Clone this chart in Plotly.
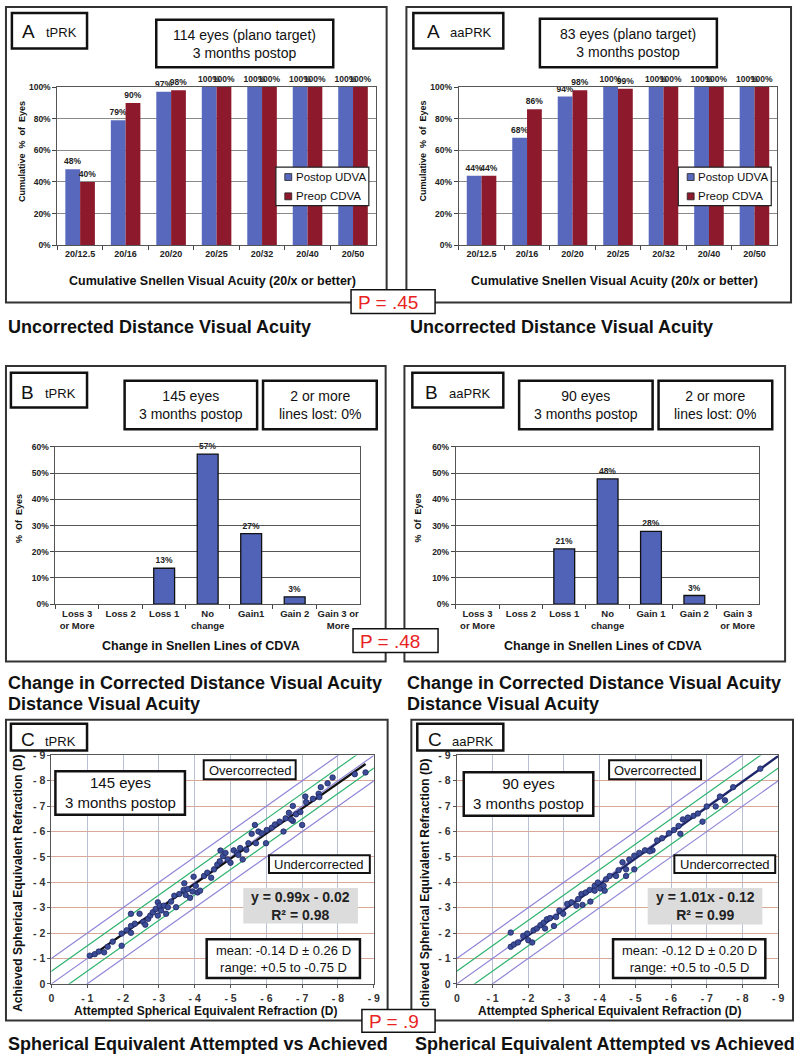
import plotly.graph_objects as go

W, H = 800, 1061
FONT = "Liberation Sans, Arial, Helvetica, sans-serif"

# ---------------- data ----------------
acuity_cats = ["20/12.5", "20/16", "20/20", "20/25", "20/32", "20/40", "20/50"]
series_names = ["Postop UDVA", "Preop CDVA"]
tprk_udva = [48, 79, 97, 100, 100, 100, 100]
tprk_cdva = [40, 90, 98, 100, 100, 100, 100]
aaprk_udva = [44, 68, 94, 100, 100, 100, 100]
aaprk_cdva = [44, 86, 98, 99, 100, 100, 100]

lines_cats_tprk = ["Loss 3<br>or More", "Loss 2", "Loss 1", "No<br>change", "Gain1", "Gain 2", "Gain 3 or<br>More"]
lines_cats_aaprk = ["Loss 3<br>or More", "Loss 2", "Loss 1", "No<br>change", "Gain 1", "Gain 2", "Gain 3<br>or More"]
tprk_lines = [0, 0, 13.7, 57.3, 26.9, 2.8, 0]
tprk_lines_lbl = ["", "", "13%", "57%", "27%", "3%", ""]
aaprk_lines = [0, 0, 21.1, 47.8, 27.8, 3.3, 0]
aaprk_lines_lbl = ["", "", "21%", "48%", "28%", "3%", ""]

# attempted / achieved spherical equivalent (D)
tprk_att = [-1.07, -1.21, -1.32, -1.47, -1.57, -1.71, -1.96, -1.96, -2.10, -2.22, -2.22, -2.22, -2.33, -2.46,
            -2.56, -2.62, -2.70, -2.76, -2.83, -2.91, -2.97, -3.02, -2.97, -3.06, -3.14, -3.20, -3.25, -3.34,
            -3.43, -3.48, -3.57, -3.69, -3.71, -3.75, -3.80, -3.87, -3.94, -3.97, -4.03, -4.08, -4.15, -4.26,
            -4.35, -4.46, -4.54, -4.63, -4.70, -4.72, -4.79, -4.86, -4.92, -5.00, -5.09, -5.18, -5.27, -5.34,
            -5.44, -5.50, -5.59, -5.68, -5.71, -5.78, -5.87, -5.99, -6.01, -6.15, -6.24, -6.37, -6.48, -6.54,
            -6.63, -6.74, -6.74, -6.83, -6.95, -7.00, -7.09, -7.11, -7.30, -7.46, -7.52, -7.71, -7.85, -8.47,
            -8.77, -7.48, -6.69, -5.22]
tprk_ach = [-1.11, -1.17, -1.27, -1.24, -1.46, -1.66, -1.50, -1.98, -2.11, -2.28, -2.01, -2.76, -2.37, -2.76,
            -2.44, -2.33, -2.56, -2.69, -2.82, -2.95, -3.21, -3.08, -2.69, -2.89, -3.08, -2.76, -3.02, -3.24,
            -3.47, -3.02, -3.54, -3.70, -3.96, -3.50, -3.73, -3.39, -3.64, -4.22, -3.86, -3.60, -3.67, -4.25,
            -4.38, -4.18, -4.51, -4.70, -4.83, -5.25, -5.03, -5.16, -4.90, -4.77, -5.26, -5.16, -5.35, -4.90,
            -5.28, -5.54, -5.91, -6.26, -5.54, -6.00, -5.93, -5.54, -6.06, -6.15, -6.28, -6.39, -6.00, -6.52,
            -6.74, -6.42, -7.01, -6.68, -6.77, -6.26, -7.38, -7.16, -7.29, -7.49, -7.75, -7.90, -8.13, -8.26,
            -8.33, -7.36, -6.48, -5.08]
aaprk_att = [-1.51, -1.51, -1.60, -1.71, -1.86, -1.97, -2.00, -2.11, -2.15, -2.24, -2.34, -2.43, -2.47, -2.52,
             -2.61, -2.72, -2.78, -2.87, -2.98, -3.09, -3.21, -3.35, -3.40, -3.49, -3.52, -3.61, -3.72, -3.74,
             -3.86, -3.95, -4.02, -4.11, -4.14, -4.18, -4.28, -4.46, -4.53, -4.64, -4.74, -4.74, -4.83, -4.97,
             -4.97, -5.11, -5.27, -5.48, -5.61, -5.75, -5.94, -6.21, -6.26, -6.33, -6.47, -6.63, -6.75, -6.88,
             -7.00, -7.25, -7.37, -7.51, -7.74, -8.50, -3.86, -5.40, -6.08]
aaprk_ach = [-2.02, -1.46, -1.55, -1.63, -1.89, -1.98, -1.72, -1.63, -2.11, -2.18, -2.31, -2.41, -2.18, -2.54,
             -2.59, -2.28, -2.63, -2.89, -2.76, -3.15, -3.21, -3.08, -3.34, -3.54, -3.11, -3.60, -3.70, -3.24,
             -3.86, -3.99, -3.76, -3.86, -3.67, -4.12, -4.25, -4.25, -4.48, -4.79, -4.51, -4.25, -4.90, -4.51,
             -5.05, -5.16, -5.26, -5.26, -5.65, -5.74, -5.93, -6.22, -5.91, -6.48, -6.55, -6.62, -6.71, -6.39,
             -6.99, -6.99, -7.38, -7.23, -7.75, -8.48, -3.67, -5.22, -6.06]

# fit lines (|achieved| = slope*|attempted| + intercept)
tprk_fit = (0.99, -0.02)
aaprk_fit = (1.01, -0.12)
ref_offsets = [1.0, -1.0, 0.5, -0.5, 0.0]
ref_colors = ["#8E86D8", "#8E86D8", "#2DB36E", "#2DB36E", "#8E86D8"]
se_ticks = list(range(0, -10, -1))
se_ticktext = ["0"] + ["- %d" % i for i in range(1, 10)]

BLUE = "#5868BC"
RED = "#8C1A2C"
BAR_B = "#5163B6"

# ---------------- helpers ----------------
shapes, annotations = [], []


def fx(x):
    return x / W


def fy(y):
    return 1 - y / H


def rect(x0, y0, x1, y1, width=2.0, color="#222", fill="rgba(0,0,0,0)"):
    shapes.append(dict(type="rect", xref="paper", yref="paper", x0=fx(x0), x1=fx(x1), y0=fy(y1), y1=fy(y0),
                       line=dict(color=color, width=width), fillcolor=fill, layer="above"))


def ann(x, y, text, size, bold=False, color="#111", xanchor="center", angle=0):
    annotations.append(dict(x=fx(x), y=fy(y), xref="paper", yref="paper", text=text, showarrow=False,
                            xanchor=xanchor, yanchor="middle", textangle=angle, align="center",
                            font=dict(family=FONT, size=size, color=color,
                                      weight="bold" if bold else "normal")))


def tf(size, bold=True, color="#222"):
    return dict(family=FONT, size=size, color=color, weight="bold" if bold else "normal")


fig = go.Figure()

# ---------------- Panel A bars ----------------
for i, (u, c) in enumerate([(tprk_udva, tprk_cdva), (aaprk_udva, aaprk_cdva)]):
    ax = "" if i == 0 else "2"
    for vals, col, name in [(u, BLUE, series_names[0]), (c, RED, series_names[1])]:
        fig.add_trace(go.Bar(x=acuity_cats, y=vals, name=name, marker=dict(color=col, line=dict(width=0)),
                             text=["%d%%" % v for v in vals], textposition="outside", cliponaxis=False,
                             constraintext="none", textfont=tf(8.5),
                             xaxis="x" + ax, yaxis="y" + ax, showlegend=False))

# ---------------- Panel B bars ----------------
for ax, cats, vals, lbl in [("3", lines_cats_tprk, tprk_lines, tprk_lines_lbl),
                            ("4", lines_cats_aaprk, aaprk_lines, aaprk_lines_lbl)]:
    fig.add_trace(go.Bar(x=cats, y=vals, text=lbl, textposition="outside", cliponaxis=False,
                         constraintext="none", textfont=tf(8.5), width=0.48,
                         marker=dict(color=BAR_B, line=dict(color="#111", width=[1.3 if v > 0 else 0 for v in vals])),
                         xaxis="x" + ax, yaxis="y" + ax, showlegend=False))

# ---------------- Panel C scatter ----------------
for ax, att, ach, fit, lc in [("5", tprk_att, tprk_ach, tprk_fit, "#111111"),
                              ("6", aaprk_att, aaprk_ach, aaprk_fit, "#1B2563")]:
    for off, col in zip(ref_offsets, ref_colors):
        xs = [1, -10]
        fig.add_trace(go.Scatter(x=xs, y=[x - off for x in xs], mode="lines", line=dict(color=col, width=1.2),
                                 xaxis="x" + ax, yaxis="y" + ax, showlegend=False, hoverinfo="skip"))
    x0, x1 = max(att), min(att)
    if ax == "6":
        x1 = -9.0
    s, b = fit
    fig.add_trace(go.Scatter(x=[x0, x1], y=[s * x0 - b, s * x1 - b], mode="lines",
                             line=dict(color=lc, width=2.2), xaxis="x" + ax, yaxis="y" + ax,
                             showlegend=False))
    fig.add_trace(go.Scatter(x=att, y=ach, mode="markers",
                             marker=dict(size=5.5, color="#3C4C96", line=dict(color="#1C2766", width=0.8)),
                             xaxis="x" + ax, yaxis="y" + ax, showlegend=False))

# ---------------- axes ----------------
layout = dict(width=W, height=H, margin=dict(l=0, r=0, t=0, b=0, pad=0), paper_bgcolor="white",
              plot_bgcolor="white", barmode="group", bargap=0.35, bargroupgap=0, showlegend=False,
              font=dict(family=FONT))


def cat_x(dom, size):
    return dict(domain=[fx(dom[0]), fx(dom[1])], type="category", tickson="boundaries", ticks="outside",
                ticklen=4, tickcolor="#444", showline=True, linecolor="#555", linewidth=1, mirror=True,
                showgrid=False, tickfont=tf(size), tickangle=0, fixedrange=True)


def pct_y(dom, top, step, grid):
    vals = list(range(0, top + 1, step))
    return dict(domain=[fy(dom[1]), fy(dom[0])], range=[0, top], tickvals=vals,
                ticktext=["%d%%" % v for v in vals], ticks="outside", ticklen=4, tickcolor="#444",
                showgrid=True, gridcolor=grid, gridwidth=1, showline=True, linecolor="#555", linewidth=1,
                mirror=True, zeroline=False, tickfont=tf(8.5), fixedrange=True)


layout["xaxis"] = dict(cat_x((55, 377), 9), anchor="y")
layout["yaxis"] = dict(pct_y((82, 242), 100, 20, "#8A8A8A"), anchor="x")
layout["xaxis2"] = dict(cat_x((461, 783), 9), anchor="y2")
layout["yaxis2"] = dict(pct_y((82, 242), 100, 20, "#8A8A8A"), anchor="x2")
layout["xaxis3"] = dict(cat_x((53, 361), 9.5), anchor="y3")
layout["yaxis3"] = dict(pct_y((446, 605), 60, 10, "#555555"), anchor="x3")
layout["xaxis4"] = dict(cat_x((458, 765), 9.5), anchor="y4")
layout["yaxis4"] = dict(pct_y((446, 605), 60, 10, "#555555"), anchor="x4")


def se_x(dom):
    return dict(domain=[fx(dom[0]), fx(dom[1])], range=[0, -9], tickvals=se_ticks, ticktext=se_ticktext,
                ticks="outside", ticklen=3, tickcolor="#555", showgrid=True, gridcolor="#B7C0D4", gridwidth=1,
                showline=True, linecolor="#555", linewidth=1.2, mirror=True, zeroline=False,
                ticklabelstandoff=1, tickfont=tf(10.5, True, "#333"), fixedrange=True)


def se_y(dom):
    return dict(domain=[fy(dom[1]), fy(dom[0])], range=[0, -9], tickvals=se_ticks, ticktext=se_ticktext,
                ticks="outside", ticklen=3, tickcolor="#555", showgrid=True, gridcolor="#D8A898", gridwidth=1,
                showline=True, linecolor="#555", linewidth=1.2, mirror=True, zeroline=False,
                tickfont=tf(10.5, True, "#333"), fixedrange=True)


layout["xaxis5"] = dict(se_x((49, 375)), anchor="y5")
layout["yaxis5"] = dict(se_y((758, 989)), anchor="x5")
layout["xaxis6"] = dict(se_x((459, 784)), anchor="y6")
layout["yaxis6"] = dict(se_y((758, 989)), anchor="x6")

# ---------------- decorations: Panel A ----------------
for (ox0, ox1, lab_box, lab_A, lab_t, name, info_box, info_txt, leg_x0, ytx, xtx, ttx) in [
    (3, 388, (9, 7, 85, 43), 26, 41, "tPRK", (155, 14, 334, 62), "114 eyes (plano target)<br>3 months postop",
     276, 20, 212, 3),
    (408, 797, (415, 7, 506, 43), 435, 450, "aaPRK", (543, 13, 722, 62), "83 eyes (plano target)<br>3 months postop",
     683, 425, 618, 410)]:
    rect(ox0, 1, ox1, 300, 2, "#333")
    rect(*lab_box, width=2.5, color="#111")
    ann(lab_A, 26, "A", 19)
    ann(lab_t, 27, name, 13, xanchor="left")
    rect(*info_box, width=2.5, color="#111")
    ann((info_box[0] + info_box[2]) / 2, (info_box[1] + info_box[3]) / 2, info_txt, 14)
    rect(leg_x0, 163, leg_x0 + 94, 202, 1.2, "#222", "white")
    for k, (nm, col) in enumerate(zip(series_names, [BLUE, RED])):
        cy = 173 + k * 19.5
        rect(leg_x0 + 9, cy - 3.5, leg_x0 + 16, cy + 3.5, 0.8, "#222", col)
        ann(leg_x0 + 18, cy, nm, 11.5, xanchor="left")
    ann(ytx, 147, "Cumulative  %  of  Eyes", 9, bold=True, angle=-90)
    ann(xtx, 278, "Cumulative Snellen Visual Acuity (20/x or better)", 12.5, bold=True)
    ann(ttx, 325, "Uncorrected Distance Visual Acuity", 18, bold=True, xanchor="left")

# ---------------- decorations: Panel B ----------------
for (ox0, ox1, lab_box, lab_B, lab_t, name, b1, t1, b2, ytx, xtx, ttx) in [
    (3, 387, (8, 371, 85, 406), 25, 40, "tPRK", (123, 379, 257, 428), "145 eyes<br>3 months postop",
     (263, 379, 378, 428), 16, 200, 3),
    (406, 791, (414, 371, 506, 406), 433, 449, "aaPRK", (522, 379, 657, 428), "90 eyes<br>3 months postop",
     (663, 379, 778, 428), 420, 607, 407)]:
    rect(ox0, 364, ox1, 663, 2, "#333")
    rect(*lab_box, width=2.5, color="#111")
    ann(lab_B, 391, "B", 19)
    ann(lab_t, 392, name, 13, xanchor="left")
    rect(*b1, width=2.5, color="#111")
    ann((b1[0] + b1[2]) / 2, (b1[1] + b1[3]) / 2, t1, 14)
    rect(*b2, width=2.5, color="#111")
    ann((b2[0] + b2[2]) / 2, (b2[1] + b2[3]) / 2, "2 or more<br>lines lost: 0%", 14)
    ann(ytx, 518, "%  Of  Eyes", 9, bold=True, angle=-90)
    ann(xtx, 647, "Change in Snellen Lines of CDVA", 12.5, bold=True)
    ann(ttx, 685, "Change in Corrected Distance Visual Acuity", 18, bold=True, xanchor="left")
    ann(ttx, 706, "Distance Visual Acuity", 18, bold=True, xanchor="left")

# ---------------- decorations: Panel C ----------------
for (ox0, ox1, lab_box, lab_C, lab_t, name, ib, itxt, ob, ub, eb, etxt, mb, mtxt, ytx, ytxt, xtx, ttx) in [
    (3, 389, (8, 726, 85, 753), 25, 40, "tPRK", (53, 774, 184, 818), "145 eyes<br>3 months postop",
     (203, 763, 296, 782), (269, 859, 371, 877), (243, 892, 359, 928), "y = 0.99x - 0.02<br>R² = 0.98",
     (206, 944, 361, 983), "mean: -0.14 D ± 0.26 D<br>range: +0.5 to -0.75 D", 15,
     "Achieved Spherical Equivalent Refraction (D)", 205, 3),
    (413, 799, (419, 726, 506, 753), 437, 452, "aaPRK", (466, 775, 597, 819), "90 eyes<br>3 months postop",
     (613, 763, 706, 782), (679, 859, 781, 877), (652, 892, 768, 929), "y = 1.01x - 0.12<br>R² = 0.99",
     (617, 944, 771, 983), "mean: -0.12 D ± 0.20 D<br>range: +0.5 to -0.5 D", 427,
     "chieved Spherical Equivalent Refraction (D)", 613, 415)]:
    rect(ox0, 722, ox1, 1026, 2, "#333")
    rect(*lab_box, width=2.5, color="#111", fill="white")
    ann(lab_C, 742, "C", 19)
    ann(lab_t, 744, name, 13, xanchor="left")
    rect(*ib, width=2.5, color="#111", fill="white")
    ann((ib[0] + ib[2]) / 2, (ib[1] + ib[3]) / 2, itxt, 15)
    rect(*ob, width=2, color="#111", fill="white")
    ann((ob[0] + ob[2]) / 2, (ob[1] + ob[3]) / 2 + 0.5, "Overcorrected", 13)
    rect(*ub, width=2, color="#111", fill="white")
    ann((ub[0] + ub[2]) / 2, (ub[1] + ub[3]) / 2 + 0.5, "Undercorrected", 13)
    rect(*eb, width=0, color="rgba(0,0,0,0)", fill="#DCDCDC")
    ann((eb[0] + eb[2]) / 2, (eb[1] + eb[3]) / 2, etxt, 14, bold=True, color="#222")
    rect(*mb, width=2.5, color="#111", fill="white")
    ann((mb[0] + mb[2]) / 2, (mb[1] + mb[3]) / 2, mtxt, 13)
    ann(ytx, 887, ytxt, 12, bold=True, angle=-90)
    ann(xtx, 1016, "Attempted Spherical Equivalent Refraction (D)", 12, bold=True)
    ann(ttx, 1050, "Spherical Equivalent Attempted vs Achieved", 18, bold=True, xanchor="left")

# ---------------- P-value boxes ----------------
for (bx0, by0, bx1, by1, txt) in [(352, 287, 437, 311, "P = .45"), (354, 630, 440, 654, "P = .48"),
                                  (363, 1015, 437, 1038, "P = .9")]:
    rect(bx0, by0, bx1, by1, 1.5, "#111", "white")
    ann(bx0 + 5, (by0 + by1) / 2 + 0.5, txt, 19, color="#E8231F", xanchor="left")

layout["shapes"] = shapes
layout["annotations"] = annotations
fig.update_layout(**layout)
fig.write_html("out.html", config={"displayModeBar": False},
               post_script="document.body.style.margin='0px';document.body.style.overflow='hidden';")
